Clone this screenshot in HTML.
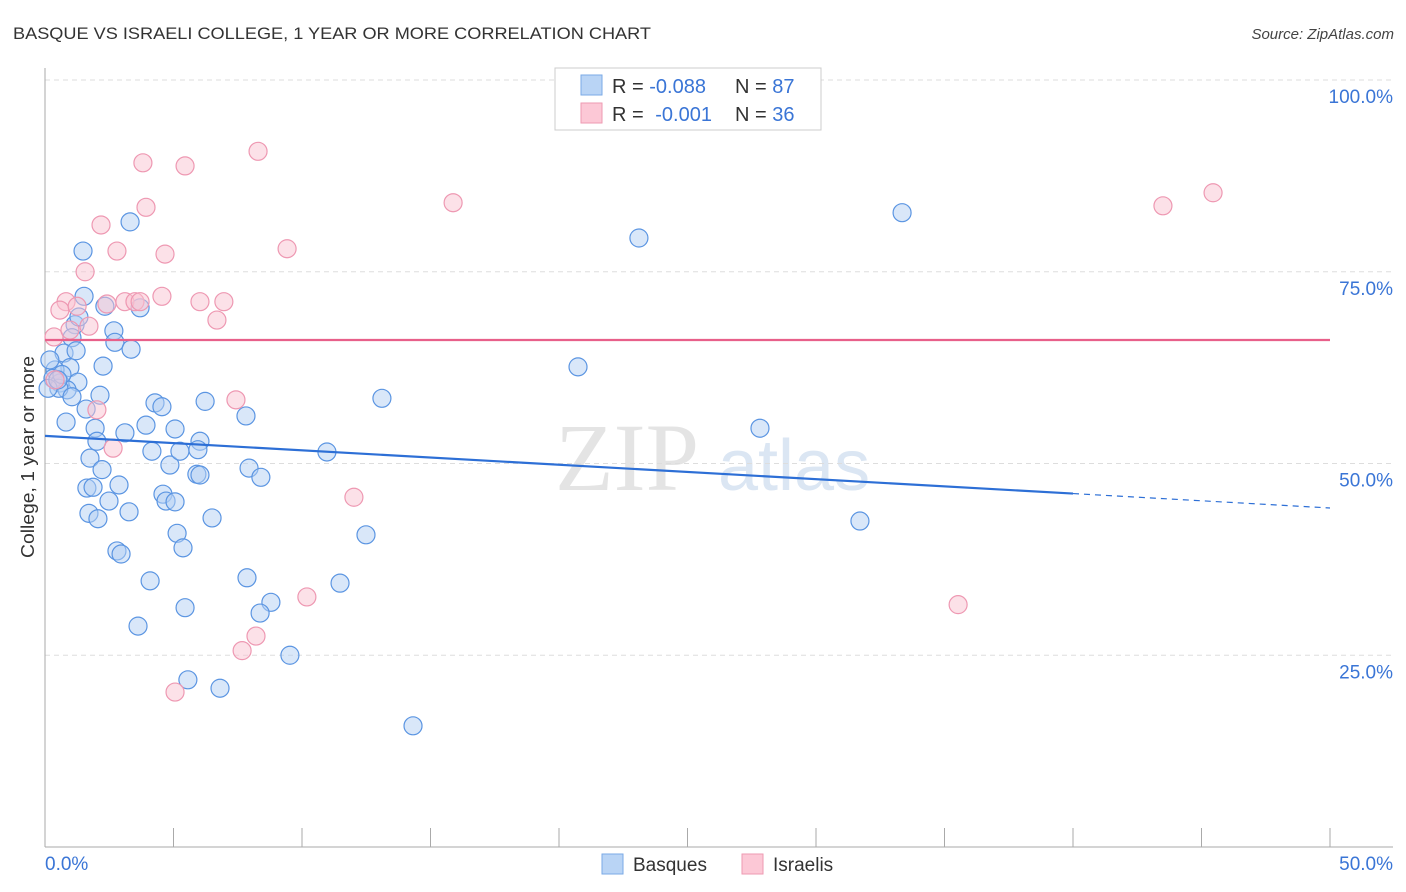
<!DOCTYPE html>
<html><head><meta charset="utf-8"><style>
body{margin:0;background:#fff;font-family:"Liberation Sans",sans-serif;}
svg{display:block}
</style></head><body>
<svg id="chart" width="1406" height="892" xmlns="http://www.w3.org/2000/svg">
<text x="13" y="39" font-size="17" fill="#333" textLength="638" lengthAdjust="spacingAndGlyphs">BASQUE VS ISRAELI COLLEGE, 1 YEAR OR MORE CORRELATION CHART</text>
<text x="1394" y="39" font-size="15" fill="#444" text-anchor="end" font-style="italic">Source: ZipAtlas.com</text>
<text x="555" y="490" font-size="96" fill="#e4e4e4" font-family="Liberation Serif,serif">ZIP</text>
<text x="718" y="490" font-size="72" fill="#dbe6f3">atlas</text>
<g id="grid"></g><g id="axes"></g><g id="pts"></g><g id="lines"></g>
<text transform="translate(34,457) rotate(-90)" font-size="18" fill="#333" text-anchor="middle" textLength="202" lengthAdjust="spacingAndGlyphs">College, 1 year or more</text>
<g>
<rect x="555" y="68" width="266" height="62" fill="#fff" stroke="#ccc"/>
<rect x="581" y="75" width="21" height="20" fill="#b9d4f5" stroke="#7aaae6"/>
<rect x="581" y="103" width="21" height="20" fill="#fcc8d6" stroke="#ee9ab2"/>
<text x="612" y="93" font-size="20" fill="#333">R = <tspan fill="#3a75d6">-0.088</tspan><tspan x="735">N = </tspan><tspan fill="#3a75d6">87</tspan></text>
<text x="612" y="121" font-size="20" fill="#333">R = <tspan fill="#3a75d6" dx="6">-0.001</tspan><tspan x="735">N = </tspan><tspan fill="#3a75d6">36</tspan></text>
</g>
<g><rect x="602" y="854" width="21" height="20" fill="#b9d4f5" stroke="#7aaae6"/><text x="633" y="871" font-size="19" fill="#333">Basques</text></g>
<g><rect x="742" y="854" width="21" height="20" fill="#fcc8d6" stroke="#ee9ab2"/><text x="773" y="871" font-size="19" fill="#333">Israelis</text></g>
</svg>
<script>
const blueX=[3.31,1.48,1.52,3.70,2.33,2.68,1.17,1.32,1.05,2.72,3.35,0.74,1.21,2.26,0.97,0.39,0.31,0.58,1.28,0.86,0.54,2.14,1.05,4.28,4.55,6.23,1.60,7.82,13.11,20.74,23.11,33.35,27.82,31.71,0.82,1.95,3.93,5.06,3.11,2.02,6.03,4.16,5.95,10.97,1.75,4.86,2.22,7.94,5.91,8.40,1.63,1.87,2.88,4.59,2.49,4.71,5.06,1.71,2.06,3.27,6.50,5.14,12.49,5.37,2.80,2.96,4.09,7.86,11.48,5.45,8.79,8.37,3.62,9.53,5.56,6.81,14.32,0.19,0.66,0.12,5.25,6.03,0.5];
const blueY=[81.5,77.7,71.8,70.3,70.5,67.3,68.1,69.1,66.4,65.8,64.9,64.4,64.7,62.7,62.5,62.2,61.1,60.5,60.6,59.6,59.8,58.9,58.7,57.9,57.4,58.1,57.1,56.2,58.5,62.6,79.4,82.7,54.6,42.5,55.4,54.6,55.0,54.5,54.0,52.9,52.9,51.6,51.8,51.5,50.7,49.8,49.2,49.4,48.6,48.2,46.8,46.9,47.2,46.0,45.1,45.1,45.0,43.5,42.8,43.7,42.9,40.9,40.7,39.0,38.6,38.2,34.7,35.1,34.4,31.2,31.9,30.5,28.8,25.0,21.8,20.7,15.8,63.5,61.6,59.8,51.6,48.5,60.9];
const pinkX=[3.81,5.45,8.29,15.88,3.93,2.18,2.80,4.67,9.42,1.56,43.5,45.45,0.82,0.58,1.25,2.41,3.11,3.50,3.70,4.55,6.03,6.96,6.69,1.71,0.35,0.97,0.39,2.02,2.65,7.43,12.02,35.53,10.19,8.21,7.67,5.06];
const pinkY=[89.2,88.8,90.7,84.0,83.4,81.1,77.7,77.3,78.0,75.0,83.6,85.3,71.1,70.0,70.5,70.8,71.1,71.1,71.1,71.8,71.1,71.1,68.7,67.9,66.5,67.4,60.9,57.0,52.0,58.3,45.6,31.6,32.6,27.5,25.6,20.2];
const blueTrend=[53.6,44.2];
const pinkTrend=[66.1,66.1];
const yTicks=[25,50,75,100];
const xTickLabels=["0.0%","50.0%"];
const NS="http://www.w3.org/2000/svg";
const X=v=>45+v/50*1285, Y=v=>847-v/100*767;
function mk(p,t,a){const e=document.createElementNS(NS,t);for(const k in a)e.setAttribute(k,a[k]);p.appendChild(e);return e;}
const grid=document.getElementById('grid'),axes=document.getElementById('axes'),pts=document.getElementById('pts'),lines=document.getElementById('lines');
yTicks.forEach(t=>{
 const l=mk(grid,'line',{x1:45,x2:1393,y1:Y(t),y2:Y(t),stroke:'#ddd','stroke-dasharray':'5,4'});
 
 
 const tx=mk(grid,'text',{x:1393,y:Y(t)+23,'font-size':19,fill:'#3a75d6','text-anchor':'end'});
 tx.textContent=t.toFixed(1)+'%';
 
 
});
const ax=mk(axes,'line',{x1:45,x2:45,y1:68,y2:847,stroke:'#aaa'});


const bx=mk(axes,'line',{x1:45,x2:1393,y1:847,y2:847,stroke:'#aaa'});


for(let i=0;i<=10;i++){const tk=mk(axes,'line',{x1:X(i*5),x2:X(i*5),y1:828,y2:847,stroke:'#aaa'});
 
 }
[[0,'start',45],[1,'end',1393]].forEach(([i,a,x])=>{const t=mk(axes,'text',{x:x,y:870,'font-size':19,fill:'#3a75d6','text-anchor':a});t.textContent=xTickLabels[i];
 
 });
function dots(xs,ys,f,s,n){xs.forEach((x,i)=>{const c=mk(pts,'circle',{cx:X(x),cy:Y(ys[i]),r:9,fill:f,'fill-opacity':0.5,stroke:s,'stroke-width':1.2});
 
 });}
dots(blueX,blueY,'#b3cff3','#5b95e2','basque-point');
dots(pinkX,pinkY,'#fac3d2','#ee98b2','israeli-point');
const bt=v=>blueTrend[0]+(blueTrend[1]-blueTrend[0])*v/50;
const l1=mk(lines,'line',{x1:X(0),y1:Y(bt(0)),x2:X(40),y2:Y(bt(40)),stroke:'#2d6fd6','stroke-width':2.2});


const l2=mk(lines,'line',{x1:X(40),y1:Y(bt(40)),x2:X(50),y2:Y(bt(50)),stroke:'#2d6fd6','stroke-width':1.2,'stroke-dasharray':'6,5'});


const l3=mk(lines,'line',{x1:X(0),y1:Y(pinkTrend[0]),x2:X(50),y2:Y(pinkTrend[1]),stroke:'#e8608a','stroke-width':2.2});


</script>
</body></html>
